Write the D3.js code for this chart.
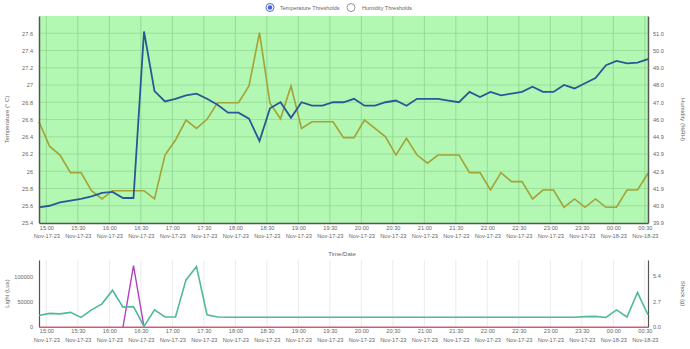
<!DOCTYPE html>
<html>
<head>
<meta charset="utf-8">
<script src="https://cdn.jsdelivr.net/npm/d3@7"></script>
<style>
  body { margin: 0; background: #fff; font-family: "Liberation Sans", Arial, sans-serif; }
  .tick text { fill: #666; font-size: 5.6px; }
</style>
</head>
<body>
<div id="chart"></div>
<script>
// readings, one every ~10 minutes
var times = [
  "2023-11-17 14:53","2023-11-17 15:03","2023-11-17 15:13","2023-11-17 15:23","2023-11-17 15:33",
  "2023-11-17 15:43","2023-11-17 15:53","2023-11-17 16:03","2023-11-17 16:13","2023-11-17 16:23",
  "2023-11-17 16:33","2023-11-17 16:43","2023-11-17 16:53","2023-11-17 17:03","2023-11-17 17:13",
  "2023-11-17 17:23","2023-11-17 17:33","2023-11-17 17:43","2023-11-17 17:53","2023-11-17 18:03",
  "2023-11-17 18:13","2023-11-17 18:23","2023-11-17 18:33","2023-11-17 18:43","2023-11-17 18:53",
  "2023-11-17 19:03","2023-11-17 19:13","2023-11-17 19:23","2023-11-17 19:33","2023-11-17 19:43",
  "2023-11-17 19:53","2023-11-17 20:03","2023-11-17 20:13","2023-11-17 20:23","2023-11-17 20:33",
  "2023-11-17 20:43","2023-11-17 20:53","2023-11-17 21:03","2023-11-17 21:13","2023-11-17 21:23",
  "2023-11-17 21:33","2023-11-17 21:43","2023-11-17 21:53","2023-11-17 22:03","2023-11-17 22:13",
  "2023-11-17 22:23","2023-11-17 22:33","2023-11-17 22:43","2023-11-17 22:53","2023-11-17 23:03",
  "2023-11-17 23:13","2023-11-17 23:23","2023-11-17 23:33","2023-11-17 23:43","2023-11-17 23:53",
  "2023-11-18 00:03","2023-11-18 00:13","2023-11-18 00:23","2023-11-18 00:33"
];

var temperature = [
  25.58, 25.60, 25.64, 25.66, 25.68, 25.71, 25.75, 25.76, 25.69, 25.69,
  27.62, 26.93, 26.81, 26.84, 26.88, 26.90, 26.84, 26.77, 26.68, 26.68,
  26.61, 26.35, 26.73, 26.80, 26.62, 26.80, 26.76, 26.76, 26.80, 26.80,
  26.84, 26.76, 26.76, 26.80, 26.82, 26.76, 26.84, 26.84, 26.84, 26.82,
  26.80, 26.92, 26.86, 26.92, 26.88, 26.90, 26.92, 26.98, 26.92, 26.92,
  27.00, 26.96, 27.02, 27.08, 27.23, 27.28, 27.25, 27.26, 27.30
];

var humidity = [
  45.83, 44.40, 43.88, 42.85, 42.85, 41.79, 41.31, 41.79, 41.79, 41.79,
  41.79, 41.31, 43.88, 44.76, 45.93, 45.44, 45.97, 46.94, 46.94, 46.94,
  47.92, 51.04, 46.91, 46.00, 47.92, 45.44, 45.83, 45.83, 45.83, 44.90,
  44.90, 45.93, 45.44, 44.95, 43.88, 44.86, 43.88, 43.40, 43.88, 43.88,
  43.88, 42.85, 42.85, 41.83, 42.85, 42.32, 42.32, 41.31, 41.83, 41.83,
  40.82, 41.31, 40.82, 41.31, 40.82, 40.82, 41.83, 41.83, 42.81
];

var light = [
  23000, 27000, 26000, 29000, 19000, 34000, 46000, 73000, 39500, 40500,
  1000, 34000, 19800, 19800, 93500, 120000, 24300, 19800, 19500, 19500,
  19500, 19500, 19500, 19500, 19500, 19500, 19500, 19500, 19500, 19500,
  19500, 19500, 19500, 19500, 19500, 19500, 19500, 19500, 19500, 19500,
  19500, 19500, 19500, 19500, 19500, 19500, 19500, 19500, 19500, 19500,
  19500, 19500, 20500, 21000, 19000, 34000, 19800, 68400, 24300
];

// shock channels: one flat at zero, one with the single jolt
var shockX = [
  0, 0, 0, 0, 0, 0, 0, 0, 0, 0,
  0, 0, 0, 0, 0, 0, 0, 0, 0, 0,
  0, 0, 0, 0, 0, 0, 0, 0, 0, 0,
  0, 0, 0, 0, 0, 0, 0, 0, 0, 0,
  0, 0, 0, 0, 0, 0, 0, 0, 0, 0,
  0, 0, 0, 0, 0, 0, 0, 0, 0
];
var shockY = [
  null, null, null, null, null, null, null, null, 0, 6.5,
  0, null, null, null, null, null, null, null, null, null,
  null, null, null, null, null, null, null, null, null, null,
  null, null, null, null, null, null, null, null, null, null,
  null, null, null, null, null, null, null, null, null, null,
  null, null, null, null, null, null, null, null, null
];

var tempTicks = [25.4, 25.6, 25.8, 26, 26.2, 26.4, 26.6, 26.8, 27, 27.2, 27.4, 27.6];
var humTickLabels = ["39.9","40.9","41.9","42.9","43.9","44.9","46.0","47.0","48.0","49.0","50.0","51.0"];
var lightTicks = [0, 50000, 100000];
var shockTicks = [0, 2.7, 5.4];

var parseTime = d3.timeParse("%Y-%m-%d %H:%M");
var data = times.map(function(t, i) {
  return { date: parseTime(t), temp: temperature[i], hum: humidity[i], light: light[i],
           sx: shockX[i], sy: shockY[i] };
});

var fullWidth = 690, fullHeight = 349;
var left = 39, right = 648;
var top1 = 16, bottom1 = 223;
var top2 = 260, bottom2 = 327;

var svg = d3.select("#chart").append("svg")
  .attr("width", fullWidth)
  .attr("height", fullHeight)
  .style("display", "block");

var x = d3.scaleTime()
  .domain(d3.extent(data, function(d) { return d.date; }))
  .range([left, right]);

var xTicks = d3.timeMinute.every(30);
var fmtH = d3.timeFormat("%H:%M"), fmtD = d3.timeFormat("%b-%d-%y");

function timeLabels(y1, y2) {
  return function(g) {
    g.selectAll(".tick text").remove();
    var t = g.selectAll(".tick").append("text").attr("fill", "#666").attr("text-anchor", "middle")
      .style("font-size", "5.6px");
    t.append("tspan").attr("x", 0).attr("y", y1).text(function(d) { return fmtH(d); });
    t.append("tspan").attr("x", 0).attr("y", y2).text(function(d) { return fmtD(d); });
  };
}

// ---------- top chart: temperature & humidity ----------
var yT = d3.scaleLinear().domain([25.4, 27.8]).range([bottom1, top1]);
var humStep = 1.01;
var yH = d3.scaleLinear().domain([39.9, 39.9 + 12 * humStep]).range([bottom1, top1]);
var humTicks = humTickLabels.map(function(l, i) { return 39.9 + i * humStep; });

svg.append("rect")
  .attr("x", left).attr("y", top1)
  .attr("width", right - left).attr("height", bottom1 - top1)
  .attr("fill", "#b2f7b2");

// grid
svg.append("g").selectAll("line").data(tempTicks.slice(1)).enter().append("line")
  .attr("x1", left).attr("x2", right)
  .attr("y1", function(d) { return yT(d); }).attr("y2", function(d) { return yT(d); })
  .attr("stroke", "#95d995").attr("stroke-width", 0.8);
svg.append("g").selectAll("line").data(x.ticks(xTicks)).enter().append("line")
  .attr("x1", function(d) { return x(d); }).attr("x2", function(d) { return x(d); })
  .attr("y1", top1).attr("y2", bottom1)
  .attr("stroke", "#8fd48f").attr("stroke-width", 0.8);

var lineT = d3.line().x(function(d) { return x(d.date); }).y(function(d) { return yT(d.temp); });
var lineH = d3.line().x(function(d) { return x(d.date); }).y(function(d) { return yH(d.hum); });

svg.append("path").datum(data).attr("d", lineH)
  .attr("fill", "none").attr("stroke", "#a3a336").attr("stroke-width", 1.6);
svg.append("path").datum(data).attr("d", lineT)
  .attr("fill", "none").attr("stroke", "#2b5796").attr("stroke-width", 1.8);

svg.append("g")
  .attr("transform", "translate(" + left + ",0)")
  .call(d3.axisLeft(yT).tickValues(tempTicks).tickSize(0).tickPadding(6).tickFormat(function(d) { return d; }))
  .call(function(g) { g.select(".domain").attr("stroke", "#555").attr("stroke-width", 1.5); });

svg.append("g")
  .attr("transform", "translate(" + right + ",0)")
  .call(d3.axisRight(yH).tickValues(humTicks).tickSize(0).tickPadding(5)
    .tickFormat(function(d, i) { return humTickLabels[i]; }))
  .call(function(g) { g.select(".domain").attr("stroke", "#555").attr("stroke-width", 1.5); });

svg.append("g")
  .attr("transform", "translate(0," + bottom1 + ")")
  .call(d3.axisBottom(x).ticks(xTicks).tickSize(0))
  .call(function(g) { g.select(".domain").attr("stroke", "#555").attr("stroke-width", 1.5); })
  .call(timeLabels(7, 15));

// axis titles
svg.append("text").attr("transform", "translate(9," + ((top1 + bottom1) / 2) + ") rotate(-90)")
  .attr("text-anchor", "middle").attr("fill", "#666").style("font-size", "6px").text("Temperature (° C)");
svg.append("text").attr("transform", "translate(681," + ((top1 + bottom1) / 2) + ") rotate(90)")
  .attr("text-anchor", "middle").attr("fill", "#666").style("font-size", "6px").text("Humidity (%RH)");
svg.append("text").attr("x", 342).attr("y", 256)
  .attr("text-anchor", "middle").attr("fill", "#666").style("font-size", "6px").text("Time/Date");

// legend
var legend = svg.append("g").style("font-size", "5.5px").attr("fill", "#666");
legend.append("circle").attr("cx", 270).attr("cy", 7.5).attr("r", 4)
  .attr("fill", "#fff").attr("stroke", "#4a6fd0").attr("stroke-width", 1);
legend.append("circle").attr("cx", 270).attr("cy", 7.5).attr("r", 2.2).attr("fill", "#4a5fd0");
legend.append("text").attr("x", 280).attr("y", 9.5).text("Temperature Thresholds");
legend.append("circle").attr("cx", 351).attr("cy", 7.5).attr("r", 4)
  .attr("fill", "#fff").attr("stroke", "#777").attr("stroke-width", 0.8);
legend.append("text").attr("x", 362).attr("y", 9.5).text("Humidity Thresholds");

// ---------- bottom chart: light & shock ----------
var yL = d3.scaleLinear().domain([0, 133000]).range([bottom2, top2]);
var yS = d3.scaleLinear().domain([0, 7.1]).range([bottom2, top2]);

svg.append("g").selectAll("line").data(x.ticks(xTicks)).enter().append("line")
  .attr("x1", function(d) { return x(d); }).attr("x2", function(d) { return x(d); })
  .attr("y1", top2).attr("y2", bottom2)
  .attr("stroke", "#e6e6e6").attr("stroke-width", 0.8);

var lineL = d3.line().x(function(d) { return x(d.date); }).y(function(d) { return yL(d.light); });
var lineSX = d3.line().x(function(d) { return x(d.date); }).y(function(d) { return yS(d.sx); });
var lineSY = d3.line()
  .defined(function(d) { return d.sy !== null; })
  .x(function(d) { return x(d.date); }).y(function(d) { return yS(d.sy); });

svg.append("g")
  .attr("transform", "translate(" + left + ",0)")
  .call(d3.axisLeft(yL).tickValues(lightTicks).tickSize(0).tickPadding(6).tickFormat(function(d) { return d; }))
  .call(function(g) { g.select(".domain").attr("stroke", "#555").attr("stroke-width", 1.2); });

svg.append("g")
  .attr("transform", "translate(" + right + ",0)")
  .call(d3.axisRight(yS).tickValues(shockTicks).tickSize(0).tickPadding(5).tickFormat(d3.format(".1f")))
  .call(function(g) { g.select(".domain").attr("stroke", "#555").attr("stroke-width", 1.2); });

svg.append("g")
  .attr("transform", "translate(0," + bottom2 + ")")
  .call(d3.axisBottom(x).ticks(xTicks).tickSize(0))
  .call(function(g) { g.select(".domain").attr("stroke", "#777").attr("stroke-width", 1.2); })
  .call(timeLabels(6, 14.5));

svg.append("path").datum(data).attr("d", lineSX)
  .attr("fill", "none").attr("stroke", "#d9607a").attr("stroke-width", 1.2);
svg.append("path").datum(data).attr("d", lineSY)
  .attr("fill", "none").attr("stroke", "#b53fc0").attr("stroke-width", 1.4);
svg.append("path").datum(data).attr("d", lineL)
  .attr("fill", "none").attr("stroke", "#4fb99c").attr("stroke-width", 1.6);

svg.append("text").attr("transform", "translate(9," + ((top2 + bottom2) / 2) + ") rotate(-90)")
  .attr("text-anchor", "middle").attr("fill", "#666").style("font-size", "6px").text("Light (Lux)");
svg.append("text").attr("transform", "translate(681," + ((top2 + bottom2) / 2) + ") rotate(90)")
  .attr("text-anchor", "middle").attr("fill", "#666").style("font-size", "6px").text("Shock (g)");
</script>
</body>
</html>
